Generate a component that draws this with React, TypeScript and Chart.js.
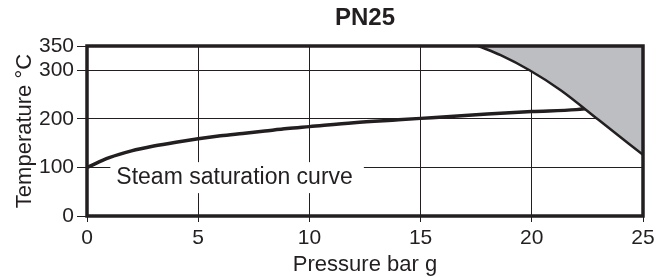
import React, { useEffect, useRef } from "react";
import { Chart, registerables } from "chart.js";

Chart.register(...registerables);

// ---- data ----
const pressureTicks = [0, 5, 10, 15, 20, 25];
const temperatureTicks = [0, 100, 200, 300, 350];

// Steam saturation curve (bar g -> °C)
const satPressure = [0, 1, 2, 3, 4, 5, 6, 7, 8, 9, 10, 12, 14, 15, 16, 18, 20, 22, 22.6];
const satTemperature = [100, 120, 134, 144, 152, 159, 165, 170, 175, 180, 184, 192, 198, 201, 204, 210, 215, 219, 222];

// Body design limit curve (grey region boundary)
const limitPressure = [17.6, 18.6, 19.9, 21.3, 23, 25];
const limitTemperature = [350, 331, 300, 259, 198, 126];

const chartTitle = "PN25";
const xTitle = "Pressure bar g";
const yTitle = "Temperature °C";
const curveLabel = "Steam saturation curve";
const curveLabelPressure = 1.05;
const curveLabelTemperature = 79;

export default function App() {
  const ref = useRef<HTMLCanvasElement>(null);

  useEffect(() => {
    document.body.style.margin = "0";
    const ink = "#231f20";
    const family = "'Liberation Sans', Arial, Helvetica, sans-serif";

    const labelPlugin = {
      id: "curveLabel",
      beforeDatasetsDraw(chart: any) {
        const { ctx, scales } = chart;
        const x = scales.x;
        const y = scales.y;
        ctx.save();
        ctx.font = `23px ${family}`;
        const w = ctx.measureText(curveLabel).width;
        const left = x.getPixelForValue(curveLabelPressure);
        const cy = y.getPixelForValue(curveLabelTemperature);
        ctx.fillStyle = "#ffffff";
        ctx.fillRect(left, cy - 15.5, w + 17, 31);
        ctx.fillStyle = ink;
        ctx.textBaseline = "middle";
        ctx.textAlign = "left";
        ctx.fillText(curveLabel, left + 6, cy);
        ctx.restore();
      },
    };

    const framePlugin = {
      id: "frame",
      afterDatasetsDraw(chart: any) {
        const { ctx, chartArea: a } = chart;
        ctx.save();
        ctx.strokeStyle = ink;
        ctx.lineWidth = 3.5;
        ctx.strokeRect(a.left, a.top, a.right - a.left, a.bottom - a.top);
        ctx.restore();
      },
    };

    const chart = new Chart(ref.current as HTMLCanvasElement, {
      type: "line",
      data: {
        datasets: [
          {
            label: "limit",
            data: limitPressure.map((p, i) => ({ x: p, y: limitTemperature[i] })),
            borderColor: ink,
            borderWidth: 2.5,
            backgroundColor: "#bcbec2",
            fill: "end",
            pointRadius: 0,
            cubicInterpolationMode: "monotone",
          },
          {
            label: "saturation",
            data: satPressure.map((p, i) => ({ x: p, y: satTemperature[i] })),
            borderColor: ink,
            borderWidth: 3.5,
            fill: false,
            pointRadius: 0,
            cubicInterpolationMode: "monotone",
          },
        ],
      },
      options: {
        animation: false,
        responsive: false,
        devicePixelRatio: 1,
        layout: { padding: { left: 0, right: 14, top: 0, bottom: 0 } },
        plugins: {
          legend: { display: false },
          tooltip: { enabled: false },
          title: {
            display: true,
            text: chartTitle,
            fullSize: false,
            color: ink,
            font: { family, size: 24, weight: "bold", lineHeight: 1.2 },
            padding: { top: 3.6, bottom: 13.6 },
          },
        },
        scales: {
          x: {
            type: "linear",
            min: 0,
            max: 25,
            afterBuildTicks: (s: any) => {
              s.ticks = pressureTicks.map((v) => ({ value: v }));
            },
            afterFit: (s: any) => {
              s.height = 61;
              s.paddingLeft = 0;
              s.paddingRight = 0;
            },
            border: { display: false },
            grid: { color: ink, lineWidth: 1, tickLength: 6, drawTicks: true },
            ticks: { color: ink, font: { family, size: 21 }, padding: 4, maxRotation: 0 },
            title: {
              display: true,
              text: xTitle,
              color: ink,
              font: { family, size: 22, lineHeight: 1 },
              padding: { top: 0, bottom: 1 },
            },
          },
          y: {
            type: "linear",
            min: 0,
            max: 350,
            afterBuildTicks: (s: any) => {
              s.ticks = temperatureTicks.map((v) => ({ value: v }));
            },
            afterFit: (s: any) => {
              s.width = 87;
              s.paddingTop = 0;
              s.paddingBottom = 0;
            },
            border: { display: false },
            grid: { color: ink, lineWidth: 1, tickLength: 10, drawTicks: true },
            ticks: { color: ink, font: { family, size: 21 }, padding: 3 },
            title: {
              display: true,
              text: yTitle,
              color: ink,
              font: { family, size: 22, lineHeight: 1 },
              padding: { top: 14, bottom: 0 },
            },
          },
        },
      },
      plugins: [labelPlugin, framePlugin],
    } as any);

    return () => chart.destroy();
  }, []);

  return (
    <div style={{ width: 657, height: 277 }}>
      <canvas ref={ref} width={657} height={277} style={{ display: "block" }} />
    </div>
  );
}
